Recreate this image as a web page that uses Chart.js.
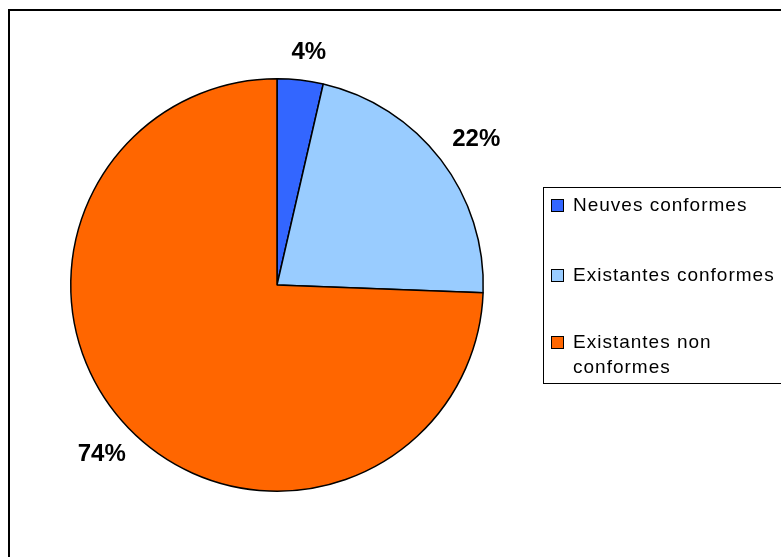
<!DOCTYPE html>
<html>
<head>
<meta charset="utf-8">
<script src="https://cdn.jsdelivr.net/npm/chart.js@4.4.1/dist/chart.umd.min.js"></script>
<style>
  html, body { margin: 0; padding: 0; background: #ffffff; }
  #wrap { position: relative; width: 781px; height: 557px; }
</style>
</head>
<body>
<div id="wrap"><canvas id="c" width="781" height="557"></canvas></div>
<script>
const categories = ["Neuves conformes", "Existantes conformes", "Existantes non conformes"];
const values = [3.6, 22.0, 74.4];
const percentLabels = ["4%", "22%", "74%"];
const colors = ["#3366FF", "#99CCFF", "#FF6600"];

const framePlugin = {
  id: 'frame',
  beforeDraw(chart) {
    const ctx = chart.ctx;
    ctx.save();
    ctx.fillStyle = '#ffffff';
    ctx.fillRect(0, 0, chart.width, chart.height);
    ctx.strokeStyle = '#000000';
    ctx.lineWidth = 2;
    ctx.beginPath();
    ctx.moveTo(9, chart.height + 2);
    ctx.lineTo(9, 10);
    ctx.lineTo(chart.width + 2, 10);
    ctx.stroke();
    ctx.restore();
  }
};

const labelPlugin = {
  id: 'outLabels',
  afterDatasetsDraw(chart, args, opts) {
    const ctx = chart.ctx;
    const meta = chart.getDatasetMeta(0);
    ctx.save();
    ctx.font = 'bold 24px "Liberation Sans", Arial, sans-serif';
    ctx.fillStyle = '#000000';
    ctx.textAlign = 'center';
    ctx.textBaseline = 'middle';
    meta.data.forEach((arc, i) => {
      const p = arc.getProps(['x', 'y', 'startAngle', 'endAngle', 'outerRadius'], true);
      const mid = (p.startAngle + p.endAngle) / 2 + (opts.angleNudge[i] || 0);
      const d = p.outerRadius + opts.offsets[i];
      ctx.fillText(percentLabels[i], p.x + Math.cos(mid) * d, p.y + Math.sin(mid) * d + 1);
    });
    ctx.restore();
  }
};

const legendPlugin = {
  id: 'boxLegend',
  afterDraw(chart) {
    const ctx = chart.ctx;
    ctx.save();
    ctx.strokeStyle = '#000000';
    ctx.lineWidth = 1;
    ctx.strokeRect(543.5, 187.5, 260, 196);
    ctx.font = '19px "Liberation Sans", Arial, sans-serif';
    ctx.letterSpacing = '1px';
    ctx.textBaseline = 'alphabetic';
    ctx.textAlign = 'left';
    const maxW = 212;
    const rowY = [211, 281, 348];
    categories.forEach((name, i) => {
      const words = name.split(' ');
      const lines = [];
      let cur = '';
      words.forEach(w => {
        const test = cur ? cur + ' ' + w : w;
        if (ctx.measureText(test).width > maxW && cur) { lines.push(cur); cur = w; }
        else cur = test;
      });
      lines.push(cur);
      const y0 = rowY[i];
      ctx.fillStyle = colors[i];
      ctx.fillRect(552, y0 - 11, 11, 11);
      ctx.strokeStyle = '#000000';
      ctx.lineWidth = 1;
      ctx.strokeRect(551.5, y0 - 11.5, 12, 12);
      ctx.fillStyle = '#000000';
      lines.forEach((ln, k) => ctx.fillText(ln, 573, y0 + k * 25));
    });
    ctx.restore();
  }
};

new Chart(document.getElementById('c'), {
  type: 'pie',
  data: {
    labels: categories,
    datasets: [{
      data: values,
      backgroundColor: colors,
      borderColor: '#000000',
      borderWidth: 1.5
    }]
  },
  options: {
    responsive: false,
    animation: false,
    devicePixelRatio: 1,
    layout: { padding: { left: 70, right: 297, top: 78, bottom: 65 } },
    plugins: {
      legend: { display: false },
      tooltip: { enabled: false },
      outLabels: { offsets: [30, 41, 37], angleNudge: [0.022, 0.02, 0] }
    }
  },
  plugins: [framePlugin, labelPlugin, legendPlugin]
});
</script>
</body>
</html>
